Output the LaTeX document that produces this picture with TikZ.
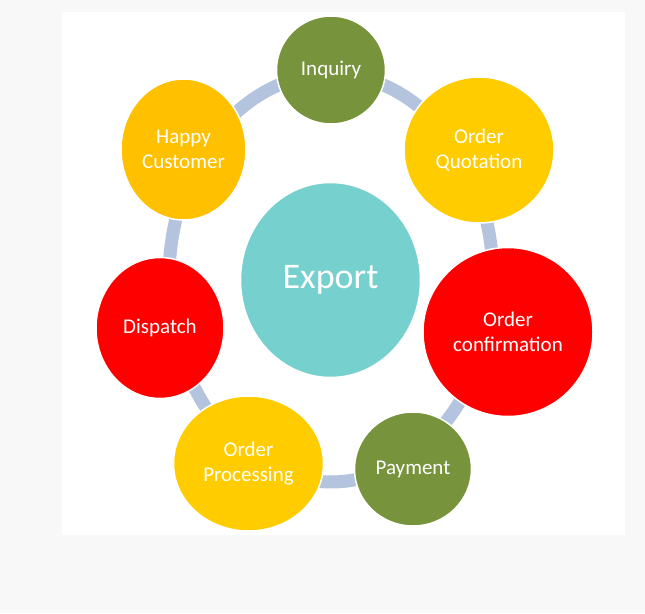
\documentclass[tikz,border=0pt]{standalone}
\usepackage{fontspec}
\setmainfont{Carlito}
\usetikzlibrary{shapes.geometric,backgrounds,calc}
\definecolor{bgc}{HTML}{F8F8F8}
\definecolor{olivec}{HTML}{77933C}
\definecolor{goldc}{HTML}{FFCC00}
\definecolor{amberc}{HTML}{FFC000}
\definecolor{redc}{HTML}{FF0000}
\definecolor{exportc}{HTML}{76D1CE}
\definecolor{ringc}{HTML}{B4C3DE}
\begin{document}
\begin{tikzpicture}[x=1pt,y=1pt,
  stage/.style={ellipse, inner sep=0pt, draw=white, line width=1.5pt, text=white,
    align=center, font=\fontsize{21}{25}\selectfont},
  ringseg/.style={draw=ringc, line width=13pt}]
\useasboundingbox (0,0) rectangle (645,-613);
\node[stage, fill=olivec, minimum width=109pt, minimum height=108pt] (inq) at (331,-70) {Inquiry};
\node[stage, fill=goldc, minimum width=150pt, minimum height=146pt] (quot) at (479,-150) {Order\\Quotation};
\node[stage, fill=redc, minimum width=170pt, minimum height=169pt] (conf) at (508,-332) {Order\\confirmation};
\node[stage, fill=olivec, minimum width=117pt, minimum height=114pt] (pay) at (413,-469) {Payment};
\node[stage, fill=goldc, minimum width=150pt, minimum height=135pt] (proc) at (248.5,-463.5) {Order\\Processing};
\node[stage, fill=redc, minimum width=128pt, minimum height=141pt] (disp) at (160,-328) {Dispatch};
\node[stage, fill=amberc, minimum width=125pt, minimum height=141pt] (happy) at (183.5,-149.5) {Happy\\Customer};
\node[stage, fill=exportc, minimum width=180pt, minimum height=195pt,
  font=\fontsize{36}{43}\selectfont] (exp) at (330.5,-280) {Export};
\coordinate (ring) at (331,-278);
\begin{pgfonlayer}{background}
\fill[bgc] (0,0) rectangle (645,-613);
\fill[white] (62,-12) rectangle (625,-535);
\foreach \a/\b in {90/34.5, 34.5/-13.6, -13.6/-61.6, -61.6/-119.3, -119.3/-166.9, -166.9/-214.7, -214.7/-270}
  \draw[ringseg] (ring) ++(\a:162pt and 204pt) arc[start angle=\a, end angle=\b, x radius=162pt, y radius=204pt];
\end{pgfonlayer}
\end{tikzpicture}
\end{document}
